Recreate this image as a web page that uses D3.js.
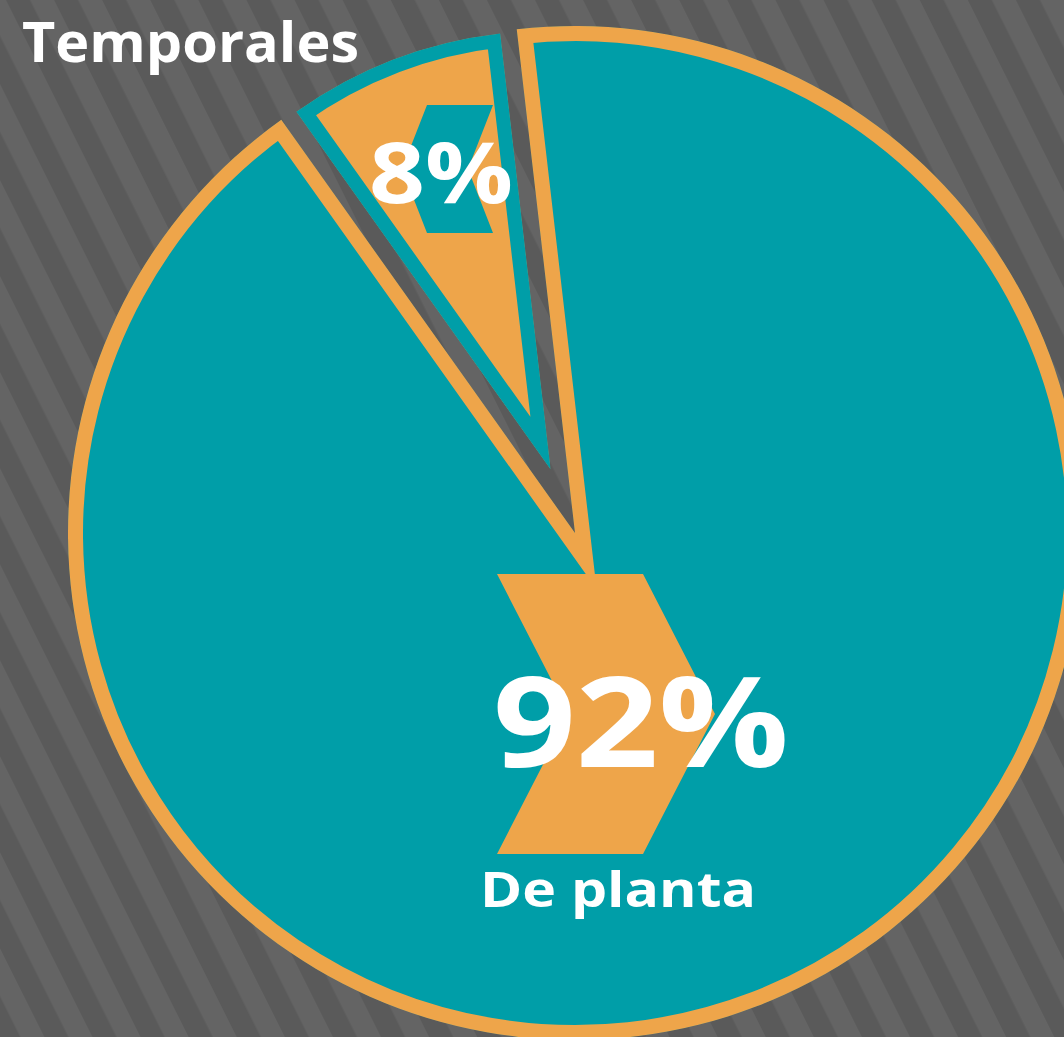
<!DOCTYPE html>
<html><head><meta charset="utf-8">
<script src="https://cdn.jsdelivr.net/npm/d3@7"></script>
<style>html,body{margin:0;padding:0;background:#5f5f5f;overflow:hidden}</style>
</head><body>
<svg id="chart" width="1064" height="1037"></svg>
<script>
// ---- data ----
const categories = ["De planta", "Temporales"];
const values = [92, 8];
const valueLabels = values.map(v => v + "%");

// ---- style / layout ----
const W = 1064, H = 1037;
const TEAL = "#009ea8", ORANGE = "#eea54a", BG_LIGHT = "#646464", BG_DARK = "#5a5a5a";
const FONT = "'Open Sans', 'Noto Sans', sans-serif";
const cx = 575, cy = 533, R = 507, explode = 68;
const deg = Math.PI / 180;

const svg = d3.select("#chart");
const defs = svg.append("defs");

// striped background
const pat = defs.append("pattern").attr("id", "stripes")
  .attr("patternUnits", "userSpaceOnUse").attr("width", 43).attr("height", 43)
  .attr("patternTransform", "translate(6,0) rotate(-26.6)");
pat.append("rect").attr("width", 43).attr("height", 43).attr("fill", BG_LIGHT);
pat.append("rect").attr("width", 21.5).attr("height", 43).attr("fill", BG_DARK);
svg.append("rect").attr("width", W).attr("height", H).attr("fill", "url(#stripes)");

// pie
const data = categories.map((c, i) => ({ name: c, value: values[i], label: valueLabels[i] }));
const pie = d3.pie().sort(null).value(d => d.value)
  .startAngle(-6.6 * deg).endAngle(353.4 * deg);
const arcs = pie(data);
const styles = [
  { fill: TEAL, border: ORANGE, bw: 15 },
  { fill: ORANGE, border: TEAL, bw: 14 }
];
const g = svg.append("g").attr("transform", `translate(${cx},${cy})`);
arcs.forEach((a, i) => {
  const off = i === 1 ? explode : 0;
  const mid = (a.startAngle + a.endAngle) / 2;
  const dx = Math.sin(mid) * off, dy = -Math.cos(mid) * off;
  const d = d3.arc().innerRadius(0).outerRadius(R - off)(a);
  defs.append("clipPath").attr("id", "clip" + i).append("path").attr("d", d);
  const sg = g.append("g").attr("transform", `translate(${dx},${dy})`);
  sg.append("path").attr("d", d)
    .attr("fill", styles[i].fill)
    .attr("stroke", styles[i].border)
    .attr("stroke-width", styles[i].bw * 2)
    .attr("stroke-miterlimit", 20)
    .attr("clip-path", `url(#clip${i})`);
});

// chevrons
function chevron(x, yTop, w, h, depth, dir) {
  const yMid = yTop + h / 2, yBot = yTop + h;
  let pts;
  if (dir > 0) {
    pts = [[x, yTop], [x + w, yTop], [x + w + depth, yMid], [x + w, yBot], [x, yBot], [x + depth, yMid]];
  } else {
    pts = [[x, yTop], [x + w, yTop], [x + w - depth, yMid], [x + w, yBot], [x, yBot], [x - depth, yMid]];
  }
  return d3.line()(pts) + "Z";
}
svg.append("path").attr("d", chevron(497, 574, 146, 280, 72, 1)).attr("fill", ORANGE);
svg.append("path").attr("d", chevron(427, 105, 66, 128, 25, -1)).attr("fill", TEAL);

// labels
const txt = svg.append("g").attr("fill", "#ffffff").attr("font-family", FONT).attr("font-weight", 700);
function label(x, y, anchor, size, len, s) {
  txt.append("text").attr("x", x).attr("y", y).attr("text-anchor", anchor)
    .attr("font-size", size).attr("textLength", len).attr("lengthAdjust", "spacingAndGlyphs")
    .text(s);
}
label(641, 767, "middle", 125, 296, data[0].label);
label(618, 907, "middle", 49, 276, data[0].name);
label(441, 203, "middle", 84, 144, data[1].label);
label(22, 62, "start", 55, 337, data[1].name);
</script>
</body></html>
